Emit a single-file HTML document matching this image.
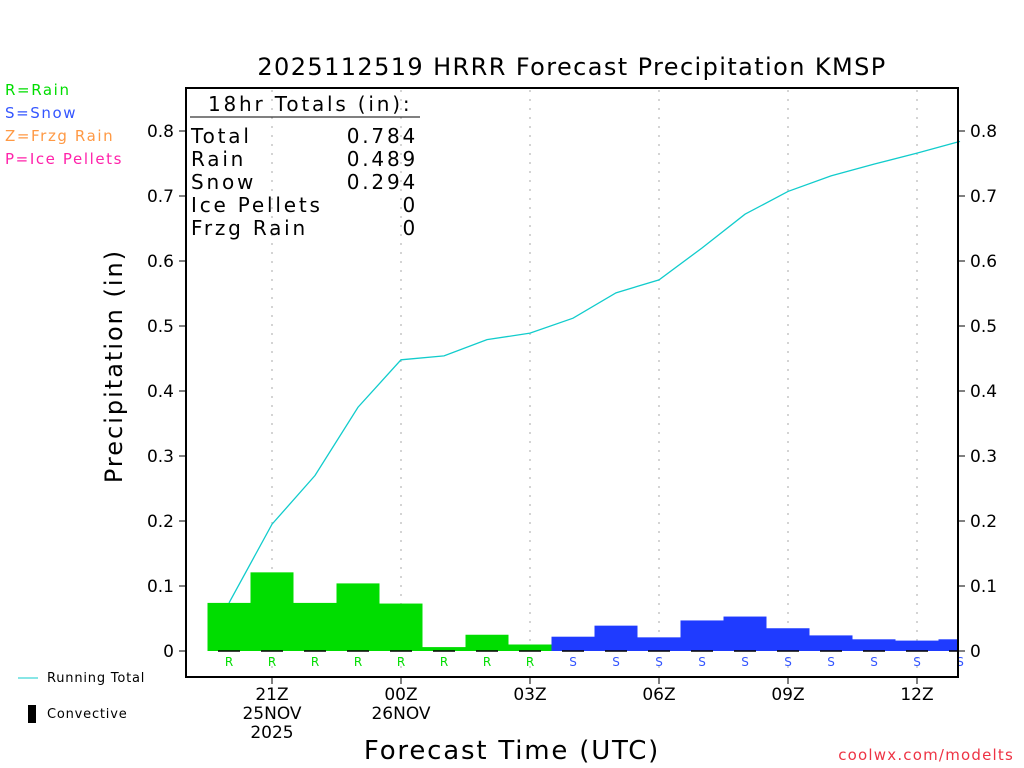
<!DOCTYPE html>
<html><head><meta charset="utf-8"><style>
body{margin:0;background:#fff;}
svg{display:block;font-family:"DejaVu Sans","Liberation Sans",sans-serif;}
</style></head><body>
<svg id="c" width="1024" height="768">
<text x="572" y="75" font-size="24" letter-spacing="1.4" text-anchor="middle">2025112519 HRRR Forecast Precipitation KMSP</text>
<g font-size="15" letter-spacing="1.6">
<text x="5" y="95" fill="#00dd00">R=Rain</text>
<text x="5" y="118" fill="#3355ff">S=Snow</text>
<text x="5" y="141" fill="#ff9944">Z=Frzg Rain</text>
<text x="5" y="164" fill="#ff22aa">P=Ice Pellets</text>
</g>
<g id="grid"></g>
<g id="marks"></g>
<rect x="186" y="88" width="772" height="589" fill="none" stroke="#000" stroke-width="2"/>
<g id="axes" font-size="17"></g>
<g font-size="20" letter-spacing="2.8">
<text x="208" y="111">18hr Totals (in):</text>
<line x1="190" y1="117" x2="420" y2="117" stroke="#000"/>
<text x="191" y="143">Total</text><text x="418" y="143" text-anchor="end">0.784</text>
<text x="191" y="166">Rain</text><text x="418" y="166" text-anchor="end">0.489</text>
<text x="191" y="189">Snow</text><text x="418" y="189" text-anchor="end">0.294</text>
<text x="191" y="212">Ice Pellets</text><text x="418" y="212" text-anchor="end">0</text>
<text x="191" y="235">Frzg Rain</text><text x="418" y="235" text-anchor="end">0</text>
</g>
<text transform="translate(122,366) rotate(-90)" font-size="24" letter-spacing="2" text-anchor="middle">Precipitation (in)</text>
<text x="512" y="759" font-size="26" letter-spacing="1.8" text-anchor="middle">Forecast Time (UTC)</text>
<line x1="18" y1="678" x2="38" y2="678" stroke="#11cccc"/>
<text x="47" y="682" font-size="13" letter-spacing="0.8">Running Total</text>
<rect x="28" y="705" width="8" height="18" fill="#000"/>
<text x="47" y="718" font-size="13" letter-spacing="0.8">Convective</text>
<text x="1014" y="760" font-size="15" letter-spacing="1.2" fill="#ee3344" text-anchor="end">coolwx.com/modelts</text>
</svg>
<script>
const hours=[20,21,22,23,0,1,2,3,4,5,6,7,8,9,10,11,12,13];
const ptype=["R","R","R","R","R","R","R","R","S","S","S","S","S","S","S","S","S","S"];
const hourly=[0.074,0.121,0.074,0.104,0.073,0.006,0.025,0.010,0.022,0.039,0.021,0.047,0.053,0.035,0.024,0.018,0.016,0.018];
const running=[0.074,0.195,0.270,0.375,0.448,0.454,0.479,0.489,0.512,0.551,0.571,0.620,0.672,0.707,0.731,0.749,0.766,0.784];
const yTicks=[0,0.1,0.2,0.3,0.4,0.5,0.6,0.7,0.8];
const xTickIdx=[1,4,7,10,13,16];
const xTickLabels=[["21Z","25NOV","2025"],["00Z","26NOV"],["03Z"],["06Z"],["09Z"],["12Z"]];
const NS="http://www.w3.org/2000/svg";
const X=i=>229+i*43, Y=v=>651-v*650;
function mk(t,a,p){const e=document.createElementNS(NS,t);for(const k in a)e.setAttribute(k,a[k]);p.appendChild(e);return e;}
const grid=document.getElementById('grid'),marks=document.getElementById('marks'),axes=document.getElementById('axes');
xTickIdx.forEach((i,k)=>{
 const g=mk('line',{x1:X(i),x2:X(i),y1:90,y2:675,stroke:'#aaa','stroke-dasharray':'2,7'},grid);
 
 
 const tk=mk('line',{x1:X(i),x2:X(i),y1:677,y2:684,stroke:'#000'},axes);
 
 
 xTickLabels[k].forEach((s,j)=>{const t=mk('text',{x:X(i),y:700+j*19,'text-anchor':'middle'},axes);t.textContent=s;
 
 });
});
yTicks.forEach(v=>{
 [[186,179,174,'end'],[958,965,970,'start']].forEach(([a,b,tx,an])=>{
  const l=mk('line',{x1:a,x2:b,y1:Y(v),y2:Y(v),stroke:'#000'},axes);
  
  
  const t=mk('text',{x:tx,y:Y(v)+6,'text-anchor':an},axes);t.textContent=v===0?'0':v.toFixed(1);
  
  
 });
});
const pl=mk('polyline',{points:running.map((v,i)=>X(i)+','+Y(v)).join(' '),fill:'none',stroke:'#11cccc','stroke-width':1.3},marks);


hourly.forEach((v,i)=>{
 const x0=X(i)-21.5,x1=Math.min(X(i)+21.5,958);
 const r=mk('rect',{x:x0,y:Y(v),width:x1-x0,height:651-Y(v),fill:ptype[i]==='R'?'#00dd00':'#1f3bff'},marks);
 
 
 const d=mk('line',{x1:X(i)-11,x2:Math.min(X(i)+11,958),y1:651,y2:651,stroke:'#000','stroke-width':1.5},marks);
 
 
 const t=mk('text',{x:X(i),y:666,'text-anchor':'middle','font-size':12,fill:ptype[i]==='R'?'#00dd00':'#3355ff'},marks);
 t.textContent=ptype[i];
 
 
});
</script>
</body></html>
